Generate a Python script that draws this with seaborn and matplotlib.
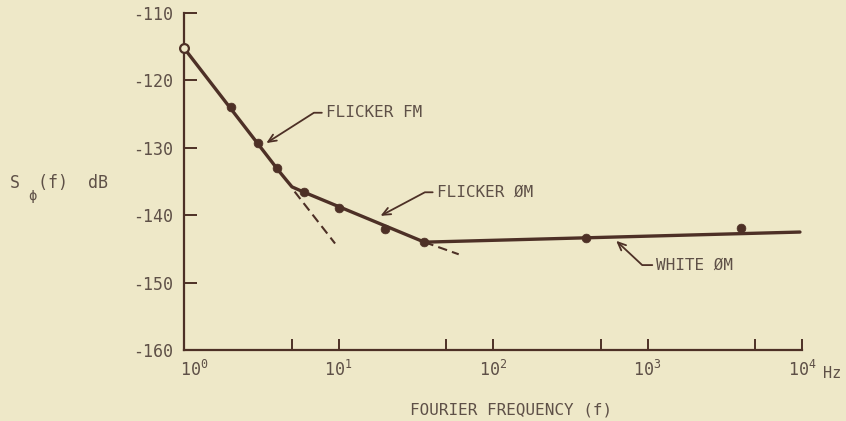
import matplotlib
matplotlib.use("Agg")
import matplotlib.pyplot as plt
import pandas as pd
import seaborn as sns
from matplotlib.ticker import FixedLocator, FixedFormatter, NullFormatter
from matplotlib.transforms import ScaledTranslation

# ---- data ----
point_freq = [1, 2, 3, 4, 6, 10, 20, 36, 400, 4000]
point_db = [-115.2, -124.0, -129.3, -133.0, -136.6, -138.9, -142.0, -144.0, -143.4, -141.9]
point_kind = ["open", "solid", "solid", "solid", "solid", "solid", "solid", "solid", "solid", "solid"]

curve_freq = [1, 4.1, 4.6, 5.0, 6.0, 36, 9700]
curve_db = [-115.2, -133.4, -134.8, -135.8, -136.6, -144.0, -142.5]

fm_ext_freq = [5.2, 9.5]
fm_ext_db = [-136.5, -144.2]
pm_ext_freq = [36, 60]
pm_ext_db = [-144.0, -145.8]

x_ticks = [1, 10, 100, 1000, 10000]
x_tick_labels = [r"$\mathtt{10}^{\mathtt{0}}$", r"$\mathtt{10}^{\mathtt{1}}$",
                 r"$\mathtt{10}^{\mathtt{2}}$", r"$\mathtt{10}^{\mathtt{3}}$",
                 r"$\mathtt{10}^{\mathtt{4}}$"]
x_minor_ticks = [5, 50, 500, 5000]
y_ticks = [-160, -150, -140, -130, -120, -110]
y_tick_labels = ["-160", "-150", "-140", "-130", "-120", "-110"]

ann_text = ["FLICKER FM", "FLICKER ØM", "WHITE ØM"]
ann_text_freq = [8.3, 43.3, 1143]
ann_text_db = [-124.8, -136.6, -147.4]
ann_tip_freq = [3.41, 18.7, 627]
ann_tip_db = [-129.3, -140.1, -143.8]
ann_angle = [32.5, 28, -43]

# ---- style ----
BG = "#EEE8C8"
INK = "#4d3026"
TXT = "#5e5047"

sns.set_theme(style="ticks")
plt.rcParams["font.family"] = ["DejaVu Sans Mono", "DejaVu Sans"]
plt.rcParams["mathtext.fontset"] = "dejavusans"

fig = plt.figure(figsize=(8.46, 4.21), dpi=100, facecolor=BG)
ax = fig.add_axes([184 / 846, 1 - 350 / 421, (802 - 184) / 846, 337 / 421])
ax.set_facecolor(BG)

curve = pd.DataFrame({"f": curve_freq, "db": curve_db})
sns.lineplot(data=curve, x="f", y="db", ax=ax, color=INK, lw=2.4,
             sort=False, estimator=None, clip_on=False)
sns.lineplot(x=fm_ext_freq, y=fm_ext_db, ax=ax, color=INK, lw=1.5,
             linestyle=(0, (4.5, 2.5)), sort=False, estimator=None)
sns.lineplot(x=pm_ext_freq, y=pm_ext_db, ax=ax, color=INK, lw=1.5,
             linestyle=(0, (4.5, 2.5)), sort=False, estimator=None)

pts = pd.DataFrame({"f": point_freq, "db": point_db, "kind": point_kind})
solid = pts[pts["kind"] == "solid"]
openp = pts[pts["kind"] == "open"]
sns.scatterplot(data=solid, x="f", y="db", ax=ax, color=INK, s=40,
                edgecolor=INK, linewidth=0.5, zorder=5, clip_on=False)
sns.scatterplot(data=openp, x="f", y="db", ax=ax, facecolor=BG, s=40,
                edgecolor=INK, linewidth=1.6, zorder=5, clip_on=False)

ax.set_xscale("log")
ax.set_xlim(1, 10000)
ax.set_ylim(-160, -110)

ax.xaxis.set_major_locator(FixedLocator(x_ticks))
ax.xaxis.set_major_formatter(FixedFormatter(x_tick_labels))
ax.xaxis.set_minor_locator(FixedLocator(x_minor_ticks))
ax.xaxis.set_minor_formatter(NullFormatter())
ax.yaxis.set_major_locator(FixedLocator(y_ticks))
ax.yaxis.set_major_formatter(FixedFormatter(y_tick_labels))

ax.tick_params(axis="x", which="both", direction="in", length=8, width=1.4,
               color=INK, labelsize=12, labelcolor=TXT, pad=7)
ax.tick_params(axis="y", direction="in", length=9, width=1.4,
               color=INK, labelsize=12, labelcolor=TXT, pad=8)

for side in ["top", "right"]:
    ax.spines[side].set_visible(False)
for side in ["left", "bottom"]:
    ax.spines[side].set_color(INK)
    ax.spines[side].set_linewidth(1.6)

# shift first x label slightly right as in reference
fig.canvas.draw()
lbl0 = ax.get_xticklabels()[0]
lbl0.set_transform(lbl0.get_transform() + ScaledTranslation(10 / 100, 0, fig.dpi_scale_trans))

ax.set_xlabel("FOURIER FREQUENCY (f)", fontsize=11.5, color=TXT)
ax.xaxis.set_label_coords((511 - 184) / (802 - 184), (350 - 410) / 337)
ax.xaxis.label.set_va("center")
ax.set_ylabel("")

ax.annotate("Hz", xy=(1, 0), xycoords="axes fraction", xytext=(15, -17),
            textcoords="offset points", fontsize=11, color=TXT,
            ha="left", va="center")

# y label: S_phi(f) dB
fig.text(10 / 846, 1 - 183 / 421, "S", fontsize=12, color=TXT, va="center", ha="left")
fig.text(28 / 846, 1 - 196 / 421, "ϕ", fontsize=10, color=TXT, va="center", ha="left",
         family=["DejaVu Sans Mono", "DejaVu Sans"])
fig.text(38 / 846, 1 - 183 / 421, "(f)  dB", fontsize=12, color=TXT, va="center", ha="left")

for t, tf, td, pf, pd_, ang in zip(ann_text, ann_text_freq, ann_text_db,
                                   ann_tip_freq, ann_tip_db, ann_angle):
    ax.annotate(t, xy=(pf, pd_), xycoords="data", xytext=(tf, td), textcoords="data",
                fontsize=11.5, color=TXT, ha="left", va="center",
                arrowprops=dict(arrowstyle="->,head_length=0.5,head_width=0.22",
                                color=INK, lw=1.3, patchA=None, shrinkA=3, shrinkB=0,
                                relpos=(0, 0.5),
                                connectionstyle=f"angle,angleA=0,angleB={ang},rad=0"))

fig.savefig("out.png", dpi=100, facecolor=BG)
